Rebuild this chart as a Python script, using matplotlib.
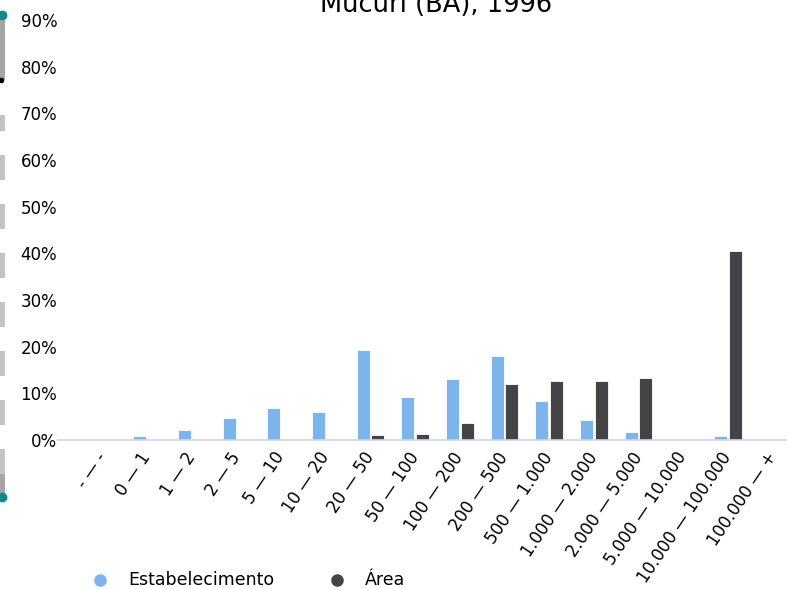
import numpy as np
import matplotlib.pyplot as plt
from matplotlib.patches import Rectangle
from matplotlib.lines import Line2D

categorias = ["- — -", "0 — 1", "1 — 2", "2 — 5", "5 — 10", "10 — 20", "20 — 50",
              "50 — 100", "100 — 200", "200 — 500", "500 — 1.000", "1.000 — 2.000",
              "2.000 — 5.000", "5.000 — 10.000", "10.000 — 100.000", "100.000 — +"]
estabelecimento = [0, 0.9, 2.2, 4.7, 6.8, 6.0, 19.3, 9.3, 13.0, 18.0, 8.4, 4.3, 1.8, 0, 0.9, 0]
area = [0, 0, 0, 0, 0, 0, 1.0, 1.3, 3.6, 11.9, 12.6, 12.6, 13.3, 0, 40.5, 0]
yticks = [0, 10, 20, 30, 40, 50, 60, 70, 80, 90]

W, H = 787, 589
fig = plt.figure(figsize=(W / 100, H / 100), dpi=100)
ax = fig.add_axes([58 / W, 1 - 440 / H, (W - 58) / W, 420 / H])

x = np.arange(len(categorias))
ax.bar(x - 0.163, estabelecimento, width=0.29, color="#7cb5ec", edgecolor="white", linewidth=0.6)
ax.bar(x + 0.163, area, width=0.29, color="#434348", edgecolor="white", linewidth=0.6)

ax.set_xlim(-0.99, 15.32)
ax.set_ylim(0, 90)
ax.set_yticks(yticks)
ax.set_yticklabels([f"{v}%" for v in yticks], fontsize=12)
ax.set_xticks(x)
ax.set_xticklabels(categorias, rotation=56, ha="right", va="center",
                   rotation_mode="anchor", fontsize=12)
ax.tick_params(axis="both", length=0)
ax.tick_params(axis="y", pad=0.5)
ax.tick_params(axis="x", pad=10)
for s in ["top", "right", "left"]:
    ax.spines[s].set_visible(False)
ax.spines["bottom"].set_color("#ccd6eb")
ax.spines["bottom"].set_linewidth(1.2)

fig.text(436.5 / W, 1 - 12 / H, "Mucuri (BA), 1996", ha="center", va="baseline", fontsize=18.5)

# barra lateral (navegador)
def px_rect(y0, y1, color):
    fig.add_artist(Rectangle((0, 1 - y1 / H), 5 / W, (y1 - y0) / H,
                             transform=fig.transFigure, color=color, lw=0))

px_rect(15, 80, "#a6a6a6")
for y0, y1 in [(115, 131), (155, 180), (204, 229), (253, 278), (302, 327),
               (351, 376), (400, 425), (449, 474)]:
    px_rect(y0, y1, "#c4c4c4")
px_rect(474, 495, "#a6a6a6")
for yy, c in [(15, "#108a8a"), (497, "#108a8a")]:
    fig.add_artist(Line2D([2 / W], [1 - yy / H], marker="o", markersize=6,
                          color=c, transform=fig.transFigure))
fig.add_artist(Line2D([1 / W], [1 - 80 / H], marker="o", markersize=3,
                      color="black", transform=fig.transFigure))

# legenda
for mx, tx, label, c in [(100, 128, "Estabelecimento", "#7cb5ec"), (337, 365, "Área", "#434348")]:
    fig.add_artist(Line2D([mx / W], [1 - 580 / H], marker="o", markersize=8,
                          color=c, transform=fig.transFigure))
    fig.text(tx / W, 1 - 580 / H, label, ha="left", va="center", fontsize=12.5)

plt.savefig("out.png", dpi=100)
